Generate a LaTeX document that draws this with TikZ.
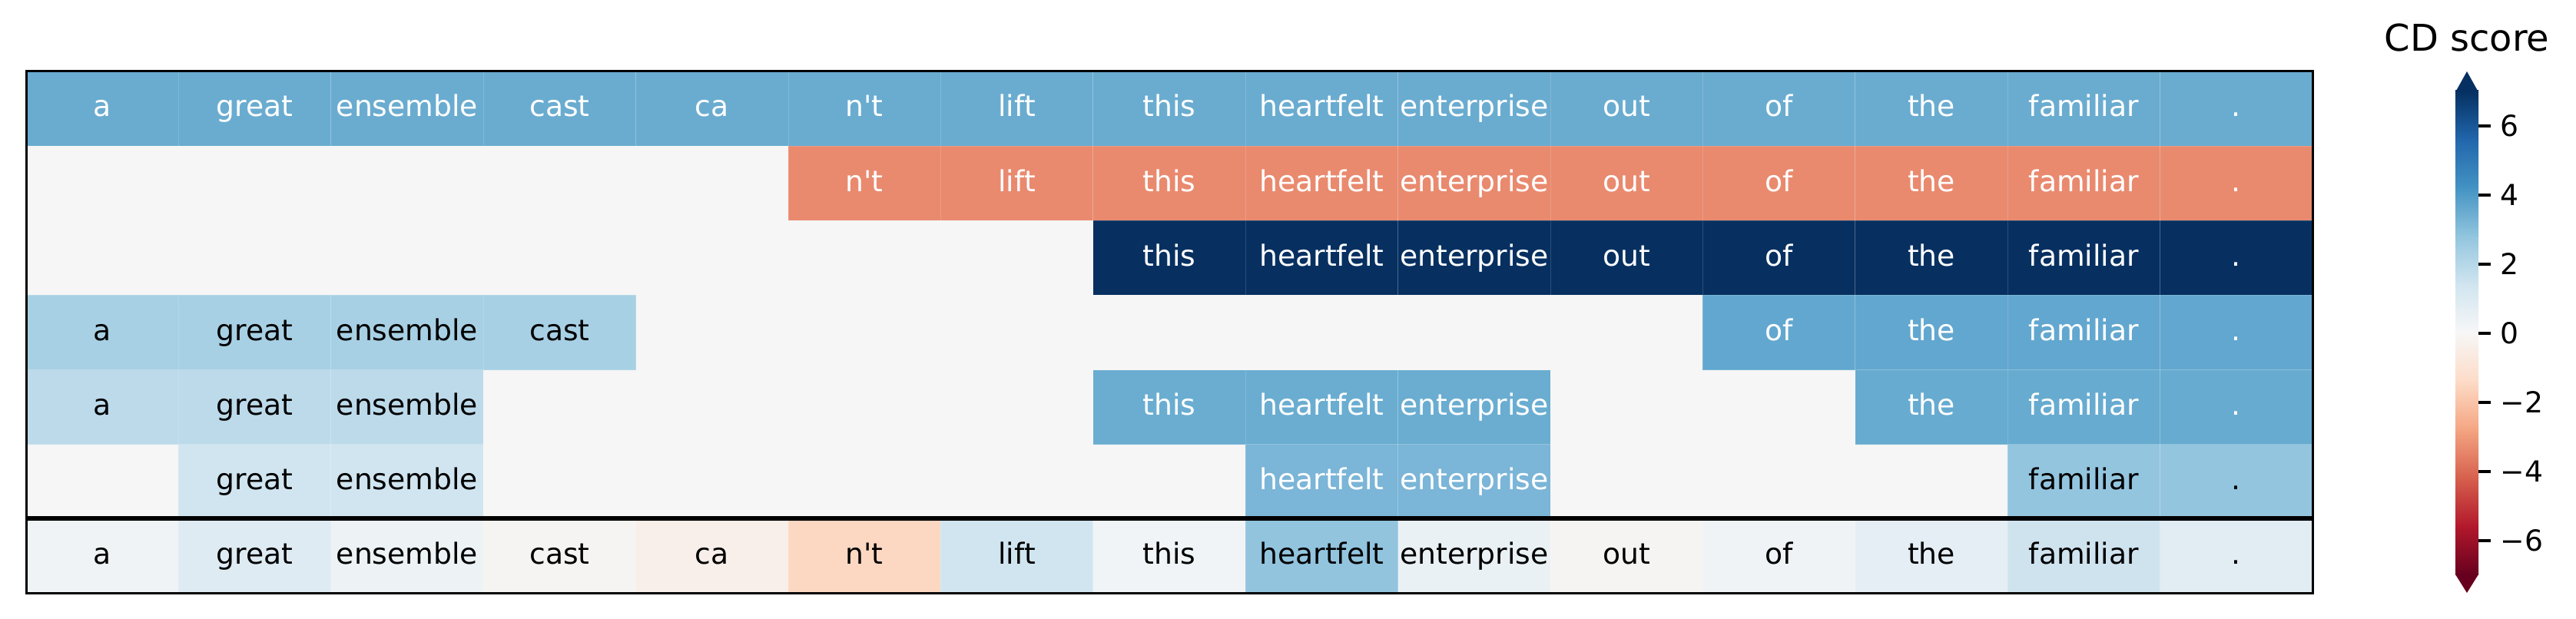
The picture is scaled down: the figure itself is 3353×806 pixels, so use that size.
\documentclass[tikz,border=0pt]{standalone}
\usepackage{fontspec}
\setmainfont{DejaVu Sans}[Ligatures=TeXOff]
\usetikzlibrary{positioning}
\definecolor{cdzero}{HTML}{F5F6F5}
\definecolor{cdfull}{HTML}{6AACD0}
\definecolor{cdneg}{HTML}{E98A6F}
\definecolor{cdhigh}{HTML}{073061}
\definecolor{cdfourl}{HTML}{A8D0E4}
\definecolor{cdfourr}{HTML}{62A7CF}
\definecolor{cdfivel}{HTML}{BCDAEA}
\definecolor{cdfivem}{HTML}{6AADD1}
\definecolor{cdfiver}{HTML}{67ABD0}
\definecolor{cdsixl}{HTML}{D1E5F0}
\definecolor{cdsixm}{HTML}{7BB5D7}
\definecolor{cdsixr}{HTML}{94C5DF}
\definecolor{cdw1}{HTML}{EFF3F5}
\definecolor{cdw2}{HTML}{DEEBF3}
\definecolor{cdw3}{HTML}{EDF2F5}
\definecolor{cdw4}{HTML}{F5F4F2}
\definecolor{cdw5}{HTML}{F8EEEA}
\definecolor{cdw6}{HTML}{FCD8C3}
\definecolor{cdw7}{HTML}{D1E5F0}
\definecolor{cdw8}{HTML}{F0F4F6}
\definecolor{cdw9}{HTML}{92C4DE}
\definecolor{cdw10}{HTML}{EAF1F5}
\definecolor{cdw11}{HTML}{F6F4F3}
\definecolor{cdw12}{HTML}{EFF3F5}
\definecolor{cdw13}{HTML}{E5EEF4}
\definecolor{cdw14}{HTML}{CFE3EF}
\definecolor{cdw15}{HTML}{E1ECF3}
\definecolor{cb0}{HTML}{67001F}
\definecolor{cb1}{HTML}{B2182B}
\definecolor{cb2}{HTML}{D6604D}
\definecolor{cb3}{HTML}{F4A582}
\definecolor{cb4}{HTML}{FDDBC7}
\definecolor{cb5}{HTML}{F7F7F7}
\definecolor{cb6}{HTML}{D1E5F0}
\definecolor{cb7}{HTML}{92C5DE}
\definecolor{cb8}{HTML}{4393C3}
\definecolor{cb9}{HTML}{2166AC}
\definecolor{cb10}{HTML}{053061}
\tikzset{
	cell/.style={minimum width=19.84mm, minimum height=9.714mm, inner sep=0,
		draw=white, draw opacity=0.15, line width=0.1mm,
		text height=8.05pt, text depth=2.15pt, font=\fontsize{10.73}{12}\selectfont},
	ticklabel/.style={anchor=base west, inner sep=0, font=\fontsize{10.73}{12}\selectfont}
}

\begin{document}
\begin{tikzpicture}[x=0.1mm, y=-0.1mm]
	\useasboundingbox (0,0) rectangle (3353,806);
	\fill[cdzero] (34,93) rectangle (3010,773);
	\foreach \w [count=\c] in {a,great,ensemble,cast,ca,n't,lift,this,heartfelt,enterprise,out,of,the,familiar,.}{
		\foreach \row/\lo/\hi/\fc/\tc in {1/1/15/cdfull/white, 2/6/15/cdneg/white, 3/8/15/cdhigh/white,
			4/1/4/cdfourl/black, 4/12/15/cdfourr/white, 5/1/3/cdfivel/black, 5/8/10/cdfivem/white,
			5/13/15/cdfiver/white, 6/2/3/cdsixl/black, 6/9/10/cdsixm/white, 6/14/15/cdsixr/black}{
			\ifnum\c<\lo\relax\else\ifnum\c>\hi\relax\else
				\node[cell, fill=\fc, text=\tc] (w\row-\c) at ({34+198.4*(\c-0.5)},{93+97.14*(\row-0.5)}) {\w};
			\fi\fi
		}
		\node[cell, fill=cdw\c] (w7-\c) at ({34+198.4*(\c-0.5)},{93+97.14*6.5}) {\w};
	}
	\draw[line width=0.65mm] (34,675) -- (3010,675);
	\draw[line width=0.3mm] (34,93) rectangle (3010,773);
	\foreach \k [evaluate=\k as \j using int(\k+1)] in {0,...,9}
		\shade[bottom color=cb\k, top color=cb\j] (3196,{434-45*(-7+1.4*\k)}) rectangle (3226,{433-45*(-7+1.4*\j)});
	\fill[cb10] (3196,120) -- (3211,93) -- (3226,120) -- cycle;
	\fill[cb0] (3196,748) -- (3211,772) -- (3226,748) -- cycle;
	\foreach \v/\lab in {6/6,4/4,2/2,0/0,-2/−2,-4/−4,-6/−6}{
		\draw[line width=0.35mm] (3226,{434-45*\v}) -- (3242,{434-45*\v});
		\node[ticklabel] (tick\v) at (3254,{447.5-45*\v}) {\lab};
	}
	\coordinate (cbtop) at (3211,93);
	\node[above=2.5mm of cbtop, inner sep=0, font=\fontsize{13.66}{16}\selectfont] (cdtitle) {CD score};
\end{tikzpicture}
\end{document}
